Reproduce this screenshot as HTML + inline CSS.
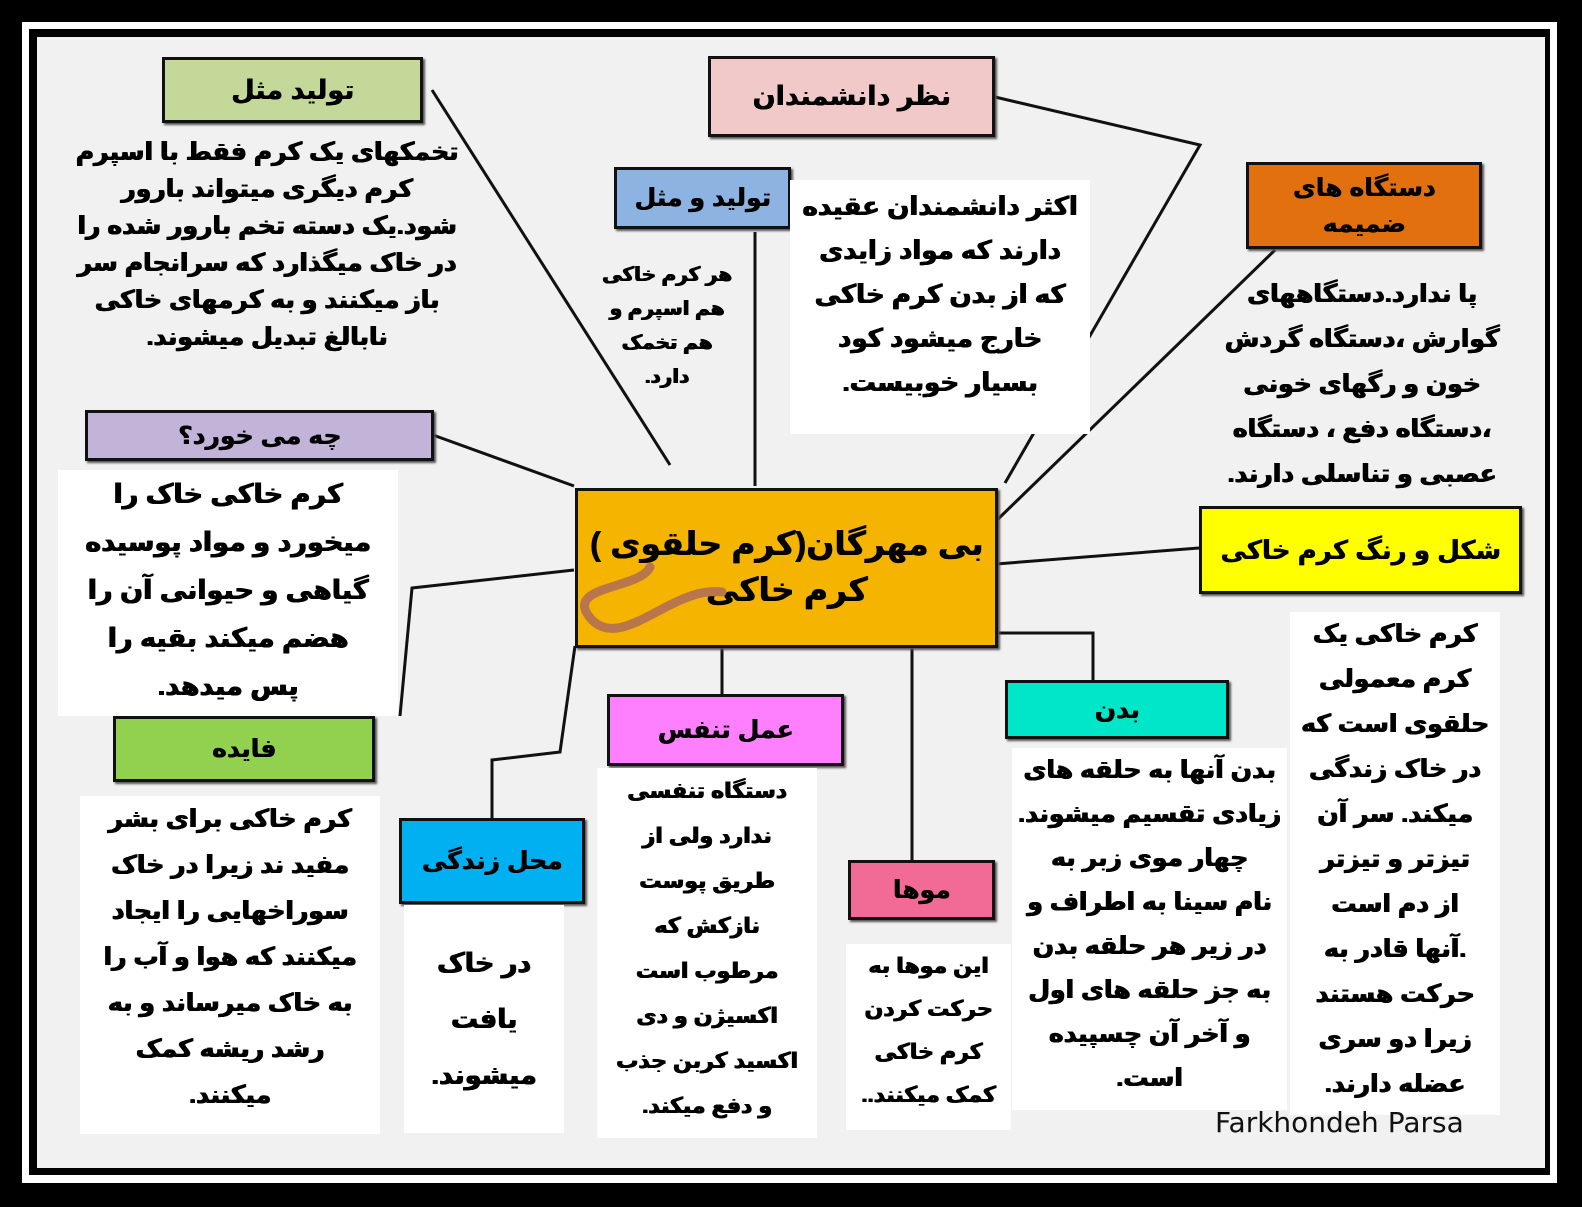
<!DOCTYPE html>
<html><head><meta charset="utf-8"><style>
body{margin:0;width:1582px;height:1207px;background:#000;position:relative;overflow:hidden;font-family:"Liberation Sans","DejaVu Sans",sans-serif;}
.w{position:absolute;left:22px;top:22px;width:1535px;height:1161px;background:#fff;}
.k{position:absolute;left:29px;top:29px;width:1521px;height:1146px;background:#000;}
.bg{position:absolute;left:37px;top:37px;width:1508px;height:1131px;background:#f1f1f1;}
.b{position:absolute;box-sizing:border-box;border:3px solid #111;display:flex;align-items:center;justify-content:center;text-align:center;font-weight:bold;font-size:27px;direction:rtl;color:#000;box-shadow:2px 2px 2px #555;text-shadow:0.7px 0 0 #000;}
.t{position:absolute;direction:rtl;text-align:center;font-weight:bold;font-size:25px;line-height:37px;color:#000;background:#fff;white-space:nowrap;text-shadow:0.8px 0 0 #000,-0.4px 0 0 #000;}
svg{position:absolute;left:0;top:0;}
</style></head><body>
<div class="w"></div><div class="k"></div><div class="bg"></div>
<svg width="1582" height="1207"><g stroke="#111" stroke-width="3" fill="none">
<line x1="432" y1="90" x2="670" y2="465"/>
<polyline points="995,97 1200,145 1005,483"/>
<line x1="1275" y1="250" x2="995" y2="522"/>
<line x1="755" y1="232" x2="755" y2="486"/>
<line x1="433" y1="435" x2="574" y2="486"/>
<line x1="1199" y1="548" x2="996" y2="564"/>
<polyline points="574,570 412,588 400,716"/>
<polyline points="575,646 560,752 492,760 492,818"/>
<line x1="722" y1="646" x2="722" y2="694"/>
<line x1="912" y1="646" x2="912" y2="860"/>
<polyline points="996,633 1093,633 1093,680"/>
</g></svg>
<div class="b" style="left:162px;top:57px;width:261px;height:66px;background:#c4d89a">تولید مثل</div>
<div class="b" style="left:708px;top:56px;width:287px;height:81px;background:#f2c9c9">نظر دانشمندان</div>
<div class="b" style="left:1246px;top:162px;width:236px;height:87px;background:#e3700f;font-size:25px;line-height:36px">دستگاه های<br>ضمیمه</div>
<div class="b" style="left:614px;top:167px;width:177px;height:62px;background:#8db3e2;font-size:25px">تولید و مثل</div>
<div class="b" style="left:85px;top:410px;width:349px;height:51px;background:#c2b3d9;font-size:25px">چه می خورد؟</div>
<div class="b" style="left:575px;top:488px;width:423px;height:160px;background:#f5b400;font-size:33px;line-height:46px;align-items:flex-start;padding-top:30px">بی مهرگان(کرم حلقوی )<br>کرم خاکی</div>
<svg width="1582" height="1207"><path d="M650,567 C640,590 560,585 592,620 C612,640 640,620 670,605 C690,595 705,590 722,592" stroke="#b8764a" stroke-width="9" fill="none" stroke-linecap="round"/></svg>
<div class="b" style="left:1199px;top:506px;width:323px;height:88px;background:#ffff00;font-size:26px">شکل و رنگ کرم خاکی</div>
<div class="b" style="left:113px;top:716px;width:262px;height:66px;background:#92d050;font-size:25px">فایده</div>
<div class="b" style="left:607px;top:694px;width:237px;height:72px;background:#ff80ff;font-size:25px">عمل تنفس</div>
<div class="b" style="left:1005px;top:680px;width:224px;height:59px;background:#00e6c8;font-size:25px">بدن</div>
<div class="b" style="left:399px;top:818px;width:186px;height:86px;background:#00b0f0;font-size:25px">محل زندگی</div>
<div class="b" style="left:848px;top:860px;width:147px;height:60px;background:#f26a96;font-size:25px">موها</div>

<div class="t" style="left:62px;top:134px;width:410px;background:none">تخمکهای یک کرم فقط با اسپرم<br>کرم دیگری میتواند بارور<br>شود.یک دسته  تخم بارور شده را<br>در خاک میگذارد که سرانجام  سر<br>باز میکنند و به  کرمهای خاکی<br>نابالغ تبدیل میشوند.</div>
<div class="t" style="left:592px;top:258px;width:150px;font-size:20px;line-height:34px;background:none">هر کرم خاکی<br>هم اسپرم و<br>هم تخمک<br>دارد.</div>
<div class="t" style="left:790px;top:180px;width:300px;font-size:26px;line-height:44px;padding:4px 0 30px">اکثر دانشمندان عقیده<br>دارند که مواد زایدی<br>که از بدن کرم خاکی<br>خارج میشود کود<br>بسیار خوبیست.</div>
<div class="t" style="left:1212px;top:272px;width:300px;line-height:45px;background:none">پا ندارد.دستگاههای<br>گوارش ،دستگاه گردش<br>خون و رگهای خونی<br>،دستگاه دفع ، دستگاه<br>عصبی و تناسلی دارند.</div>
<div class="t" style="left:58px;top:470px;width:340px;font-size:27px;line-height:48px;padding-bottom:6px">کرم خاکی  خاک را<br>میخورد و مواد پوسیده<br>گیاهی و حیوانی آن را<br>هضم میکند  بقیه را<br>پس میدهد.</div>
<div class="t" style="left:1290px;top:612px;width:210px;line-height:45px;padding-bottom:8px">کرم خاکی یک<br>کرم معمولی<br>حلقوی است که<br>در خاک زندگی<br>میکند. سر آن<br>تیزتر و تیزتر<br>از دم است<br>.آنها قادر به<br>حرکت هستند<br>زیرا دو سری<br>عضله  دارند.</div>
<div class="t" style="left:80px;top:796px;width:300px;line-height:46px;padding-bottom:16px">کرم خاکی برای بشر<br>مفید ند زیرا در خاک<br>سوراخهایی را ایجاد<br>میکنند که هوا و آب را<br>به خاک میرساند و به<br>رشد ریشه کمک<br>میکنند.</div>
<div class="t" style="left:404px;top:905px;width:160px;font-size:27px;line-height:56px;padding:30px 0 30px">در خاک<br>یافت<br>میشوند.</div>
<div class="t" style="left:597px;top:768px;width:220px;font-size:22px;line-height:45px;padding-bottom:10px">دستگاه تنفسی<br>ندارد ولی از<br>طریق پوست<br>نازکش که<br>مرطوب است<br>اکسیژن و دی<br>اکسید کربن جذب<br>و دفع میکند.</div>
<div class="t" style="left:846px;top:944px;width:165px;font-size:22px;line-height:43px;padding-bottom:14px">این موها به<br>حرکت کردن<br>کرم خاکی<br>کمک میکنند..</div>
<div class="t" style="left:1012px;top:748px;width:275px;line-height:44px;padding-bottom:10px">بدن آنها به حلقه های<br>زیادی تقسیم میشوند.<br>چهار موی زبر  به<br>نام سینا به اطراف و<br>در زیر  هر حلقه بدن<br>به جز حلقه های اول<br>و آخر آن چسپیده<br>است.</div>
<div style="position:absolute;left:1215px;top:1106px;font-size:28px;color:#111;font-family:'DejaVu Sans',sans-serif">Farkhondeh Parsa</div>
</body></html>
